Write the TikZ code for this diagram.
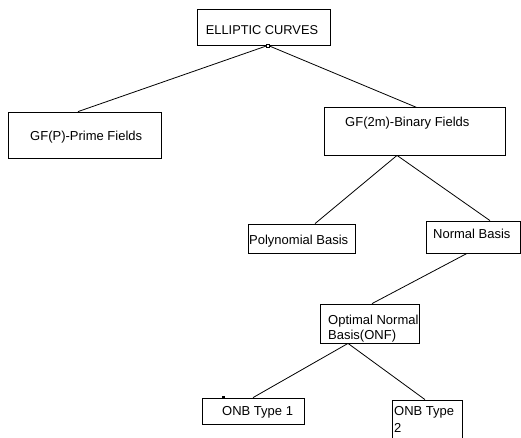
\documentclass[tikz,border=0pt]{standalone}
\usepackage{fontspec}
\setmainfont{Liberation Sans}
\usetikzlibrary{calc}
\begin{document}
\begin{tikzpicture}[x=1pt,y=-1pt,
  box/.style={draw=black,line width=0.8pt,rectangle,inner sep=0pt},
  txt/.style={inner sep=0pt,anchor=west,font=\fontsize{13}{15}\selectfont},
  txtc/.style={inner sep=0pt,font=\fontsize{12.8}{15}\selectfont},
  link/.style={draw=black,line width=0.8pt}]
\useasboundingbox (0,0) rectangle (521,437);
% boxes
\node[box,minimum width=133pt,minimum height=36pt] (ec) at (263.5,27) {};
\node[box,minimum width=153pt,minimum height=46pt] (gfp) at (84.5,135) {};
\node[box,minimum width=181pt,minimum height=48pt] (gf2) at (414.5,131) {};
\node[box,minimum width=107pt,minimum height=29pt] (poly) at (301.5,238.5) {};
\node[box,minimum width=94pt,minimum height=32pt] (nb) at (473,237) {};
\node[box,minimum width=99pt,minimum height=39pt] (onf) at (369.5,323.5) {};
\node[box,minimum width=102pt,minimum height=26pt] (onb1) at (253,411) {};
\node[box,minimum width=70pt,minimum height=40pt] (onb2) at (427,420) {};
% texts
\node[txtc] (tec) at (262,30) {ELLIPTIC CURVES};
\node[txt] (tgfp) at (30,137) {GF(P)-Prime Fields};
\node[txt] (tgf2) at (345,123) {GF(2m)-Binary Fields};
\node[txt] (tpoly) at (249,241) {Polynomial Basis};
\node[txt] (tnb) at (433,234) {Normal Basis};
\node[txt] (tonf1) at (328,321) {Optimal Normal};
\node[txt] (tonf2) at (328,336) {Basis(ONF)};
\node[txt] (tonb1) at (222,412) {ONB Type 1};
\node[txt] (tonb2a) at (394,412) {ONB Type};
\node[txt] (tonb2b) at (394,428) {2};
% connection points
\coordinate (ecs) at ($(ec.south)+(4.5,0)$);
\coordinate (gfpn) at ($(gfp.north)+(-6.5,0)$);
\coordinate (gf2n) at ($(gf2.north)+(2.5,1)$);
\coordinate (gf2s) at ($(gf2.south)+(-17.5,0)$);
\coordinate (polyn) at ($(poly.north)+(13.5,0)$);
\coordinate (nbn) at ($(nb.north)+(17,0)$);
\coordinate (nbs) at ($(nb.south)+(-6,0)$);
\coordinate (onfn) at ($(onf.north)+(2.5,0)$);
\coordinate (onfs) at ($(onf.south)+(-21.5,0)$);
\coordinate (onb1n) at ($(onb1.north)+(0,0)$);
\coordinate (onb2n) at ($(onb2.north)+(-2,0)$);
% connectors
\draw[link] (ecs) -- (gfpn);
\draw[link] (ecs) -- (gf2n);
\draw[link] (gf2s) -- (polyn);
\draw[link] (gf2s) -- (nbn);
\draw[link] (nbs) -- (onfn);
\draw[link] (onfs) -- (onb1n);
\draw[link] (onfs) -- (onb2n);
% small handle marks
\node[draw=black,fill=white,line width=0.6pt,minimum size=3pt,inner sep=0pt] (h1) at (ecs) {};
\node[fill=black,minimum width=3pt,minimum height=2pt,inner sep=0pt] (h2) at ($(onb1.north west)+(22,-1)$) {};
\end{tikzpicture}
\end{document}
